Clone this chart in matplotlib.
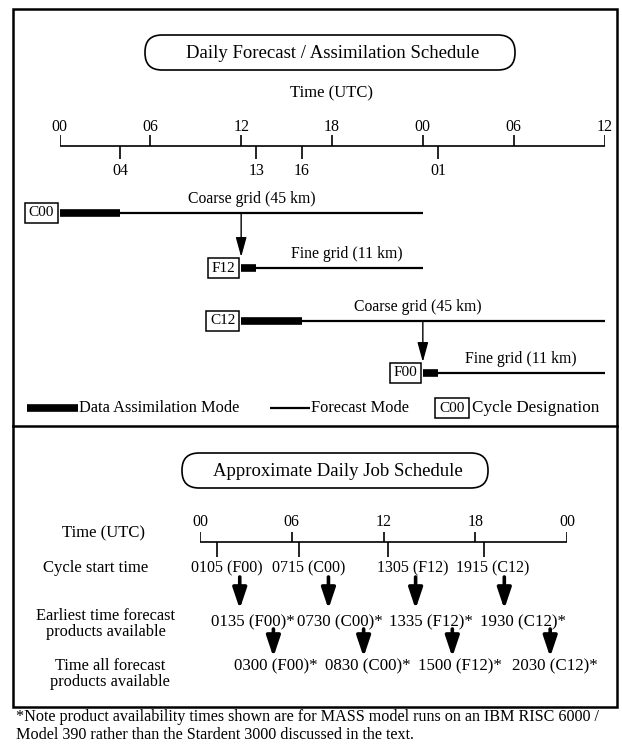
import matplotlib
matplotlib.use('Agg')
import matplotlib.pyplot as plt
from matplotlib.patches import FancyBboxPatch, Rectangle

plt.rcParams['font.family'] = ['Liberation Serif', 'DejaVu Serif']

W, H = 622, 750

# ---- top panel: forecast / assimilation cycles (hours from 00 UTC, day 1)
top_major_hours = [0, 6, 12, 18, 24, 30, 36]
top_major_labels = ['00', '06', '12', '18', '00', '06', '12']
top_minor_hours = [4, 13, 16, 25]
top_minor_labels = ['04', '13', '16', '01']

cycle_names = ['C00', 'F12', 'C12', 'F00']
cycle_grids = ['Coarse grid (45 km)', 'Fine grid (11 km)',
               'Coarse grid (45 km)', 'Fine grid (11 km)']
cycle_start = [0, 12, 12, 24]
assim_end = [4, 13, 16, 25]
forecast_end = [24, 24, 36, 36]
nest_links = [(0, 1), (2, 3)]  # coarse run -> fine run it drives

# ---- bottom panel: daily job schedule (hours of the day)
day_hours = [0, 6, 12, 18, 24]
day_labels = ['00', '06', '12', '18', '00']
start_hours = [1.1, 6.45, 12.3, 18.6]   # ticks as drawn in the figure
start_labels = ['0105 (F00)', '0715 (C00)', '1305 (F12)', '1915 (C12)']
early_hours = [2.6, 8.4, 14.1, 19.9]
early_labels = ['0135 (F00)*', '0730 (C00)*', '1335 (F12)*', '1930 (C12)*']
all_hours = [4.8, 10.7, 16.5, 22.9]
all_labels = ['0300 (F00)*', '0830 (C00)*', '1500 (F12)*', '2030 (C12)*']

note = ("*Note product availability times shown are for MASS model runs on an IBM RISC 6000 /\n"
        "Model 390 rather than the Stardent 3000 discussed in the text.")

fig = plt.figure(figsize=(W / 100, H / 100), dpi=100)
ax = fig.add_axes([0, 0, 1, 1])
ax.set_xlim(0, W)
ax.set_ylim(H, 0)
ax.axis('off')


def hour_axes(px0, px1, h1):
    a = fig.add_axes([px0 / W, 0, (px1 - px0) / W, 1])
    a.set_xlim(0, h1)
    a.set_ylim(H, 0)
    a.axis('off')
    return a


box_style = dict(boxstyle='square,pad=0.25', fc='white', ec='black', lw=1.1)

# frame and divider
ax.add_patch(Rectangle((13, 9), 604, 698, fill=False, lw=1.8))
ax.plot([13, 617], [426, 426], color='k', lw=1.8)

# titles in rounded boxes
for (x, y, w, h, txt) in [(145, 35, 370, 35, 'Daily Forecast / Assimilation Schedule'),
                          (182, 453, 306, 35, 'Approximate Daily Job Schedule')]:
    ax.add_patch(FancyBboxPatch((x, y), w, h, boxstyle='round,pad=0,rounding_size=17',
                                fill=False, lw=1.2))
    ax.text(x + w / 2 + 3, y + h / 2 + 1, txt, ha='center', va='center', fontsize=13.5)

# ---------------- top panel
at = hour_axes(59.5, 604.5, 36)
ax.text(332, 93, 'Time (UTC)', ha='center', va='center', fontsize=12)
at.plot([0, 36], [146, 146], color='k', lw=1.2)
at.vlines(top_major_hours, 135, 146, color='k', lw=1.2)
at.vlines(top_minor_hours, 146, 159, color='k', lw=1.2)
for h, lab in zip(top_major_hours, top_major_labels):
    at.text(h, 127, lab, ha='center', va='center', fontsize=11.5)
for h, lab in zip(top_minor_hours, top_minor_labels):
    at.text(h, 171, lab, ha='center', va='center', fontsize=11.5)

row_y = [213, 268, 321, 373]
grid_label_hours = [12.7, 19.0, 23.7, 30.5]
for i, name in enumerate(cycle_names):
    y = row_y[i]
    at.hlines(y, cycle_start[i], forecast_end[i], color='k', lw=1.6)
    at.hlines(y, cycle_start[i], assim_end[i], color='k', lw=5.5)
    at.annotate(name, (cycle_start[i], y), xytext=(-4, 0), textcoords='offset points',
                ha='right', va='center', fontsize=11, bbox=box_style, zorder=5)
    at.text(grid_label_hours[i], y - 14, cycle_grids[i], ha='center', va='center',
            fontsize=11.3)

for parent, child in nest_links:
    h = cycle_start[child]
    at.annotate('', xy=(h, row_y[child] - 11), xytext=(h, row_y[parent]),
                arrowprops=dict(arrowstyle='-|>,head_length=1.2,head_width=0.33',
                                color='k', lw=1.0, shrinkA=0, shrinkB=0))

# legend row
ax.plot([27, 78], [408, 408], color='k', lw=5.5, solid_capstyle='butt')
ax.text(79, 408, 'Data Assimilation Mode', va='center', fontsize=11.8)
ax.plot([270, 310], [408, 408], color='k', lw=1.6, solid_capstyle='butt')
ax.text(311, 408, 'Forecast Mode', va='center', fontsize=11.8)
ax.text(452, 408, 'C00', ha='center', va='center', fontsize=11, bbox=box_style)
ax.text(472, 408, 'Cycle Designation', va='center', fontsize=12.3)

# ---------------- bottom panel
ab = hour_axes(200, 567, 24)
ab.plot([0, 24], [542, 542], color='k', lw=1.2)
ab.vlines(day_hours, 532, 542, color='k', lw=1.2)
ab.vlines(start_hours, 542, 557, color='k', lw=1.2)
for h, lab in zip(day_hours, day_labels):
    ab.text(h, 522, lab, ha='center', va='center', fontsize=11.5)

start_label_hours = [1.77, 7.13, 13.9, 19.17]
early_label_hours = [3.47, 9.16, 15.1, 21.1]
all_label_hours = [4.97, 10.96, 17.0, 23.2]
for h, lab in zip(start_label_hours, start_labels):
    ab.text(h, 568, lab, ha='center', va='center', fontsize=11.5)
for h, lab in zip(early_label_hours, early_labels):
    ab.text(h, 622, lab, ha='center', va='center', fontsize=12.2)
for h, lab in zip(all_label_hours, all_labels):
    ab.text(h, 666, lab, ha='center', va='center', fontsize=12.2)

thick_arrow = dict(arrowstyle='-|>,head_length=1.25,head_width=0.42', color='k', lw=2.6,
                   shrinkA=0, shrinkB=0)
for h in early_hours:
    ab.annotate('', xy=(h, 609), xytext=(h, 577), arrowprops=thick_arrow)
for h in all_hours:
    ab.annotate('', xy=(h, 657), xytext=(h, 629), arrowprops=thick_arrow)

ax.text(104, 533, 'Time (UTC)', ha='center', va='center', fontsize=12)
ax.text(96, 568, 'Cycle start time', ha='center', va='center', fontsize=12)
ax.text(106, 624, 'Earliest time forecast\nproducts available', ha='center', va='center',
        fontsize=11.8, linespacing=1.0)
ax.text(110, 674, 'Time all forecast\nproducts available', ha='center', va='center',
        fontsize=11.8, linespacing=1.0)

ax.text(16, 726, note, ha='left', va='center', fontsize=11.6, linespacing=1.2)

fig.savefig('out.png', dpi=100)
